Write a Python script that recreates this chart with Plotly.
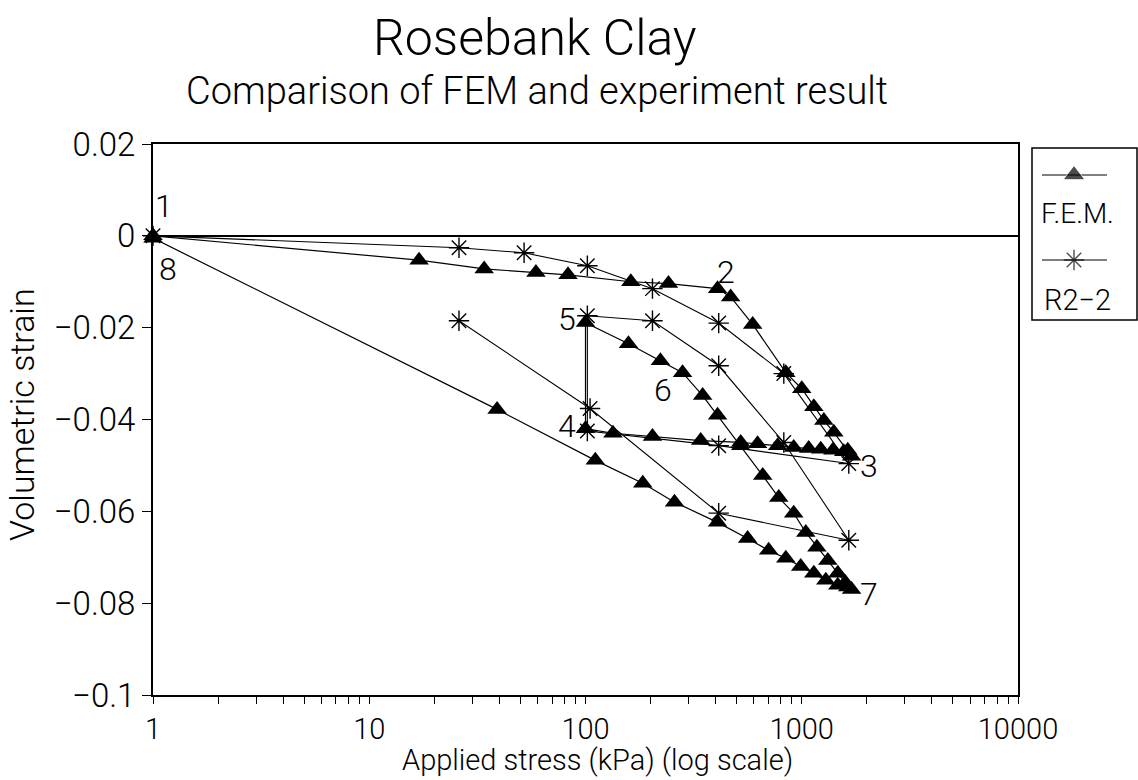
import math
import plotly.graph_objects as go

# ---- F.E.M. prediction: load 1->3, unload 3->4, swell 4->5, reload 5->7, unload 7->8
fem_stress = [1, 17, 34, 59, 83, 162, 242, 408, 469, 593, 844, 1000, 1137, 1265, 1407, 1632, 1700,
              1564, 1393, 1224, 1077, 918, 774, 625, 522, 341, 204, 134, 100,
              100,
              158, 222, 281, 348, 408, 522, 660, 783, 918, 1044, 1175, 1320, 1468, 1590, 1700,
              1633, 1468, 1292, 1137, 989, 844, 703, 562, 408, 258, 184, 111, 39, 1]
fem_strain = [0, -0.0053, -0.0072, -0.0080, -0.0085, -0.0100, -0.0104, -0.0115, -0.0133, -0.0193,
              -0.0298, -0.0333, -0.0372, -0.0402, -0.0428, -0.0467, -0.0480,
              -0.0470, -0.0467, -0.0465, -0.0463, -0.0461, -0.0457, -0.0453, -0.0450, -0.0446,
              -0.0437, -0.0430, -0.0420,
              -0.0189,
              -0.0235, -0.0272, -0.0298, -0.0348, -0.0391, -0.0457, -0.0522, -0.0570, -0.0604,
              -0.0646, -0.0678, -0.0707, -0.0735, -0.0755, -0.0770,
              -0.0765, -0.0761, -0.0750, -0.0735, -0.0720, -0.0702, -0.0685, -0.0659, -0.0624,
              -0.0580, -0.0539, -0.0489, -0.0378, -0.0005]

# ---- R2-2 oedometer test
r22_stress = [1, 26, 52, 102, 204, 413, 826, 1650, 413, 102, 102, 204, 413, 826, 1650, 413, 105, 26]
r22_strain = [0, -0.0026, -0.0037, -0.0065, -0.0115, -0.0190, -0.0300, -0.0496, -0.0457, -0.0425,
              -0.0174, -0.0185, -0.0283, -0.0450, -0.0663, -0.0604, -0.0376, -0.0185]

# stage labels: (text, stress, strain, xshift, yshift)
stage_labels = [("1", 1, 0.0, 11, 30), ("2", 408, -0.0115, 8, 17), ("3", 1700, -0.048, 17, -10),
                ("4", 100, -0.042, -19, 3), ("5", 100, -0.0189, -19, 4), ("6", 281, -0.0298, -20, -17),
                ("7", 1700, -0.077, 17, -5), ("8", 1, 0.0, 15, -33)]

y_ticks = [0.02, 0, -0.02, -0.04, -0.06, -0.08, -0.1]
y_tick_text = ["0.02", "0", "\u22120.02", "\u22120.04", "\u22120.06", "\u22120.08", "\u22120.1"]
x_ticks = [1, 10, 100, 1000, 10000]
x_tick_text = ["1", "10", "100", "1000", "10000"]
x_minor = [m * 10 ** d for d in range(4) for m in range(2, 10)]

FONT = "Roboto"
INK = "black"


def txt_font(size):
    return dict(family=FONT, size=size, color=INK, weight=300)


fig = go.Figure()

fig.add_trace(go.Scatter(
    x=fem_stress, y=fem_strain, mode="lines+markers", name="F.E.M.",
    line=dict(color=INK, width=1.2),
    marker=dict(symbol="triangle-up", size=17, color=INK),
    cliponaxis=False, showlegend=False))

fig.add_trace(go.Scatter(
    x=r22_stress, y=r22_strain, mode="lines+markers", name="R2\u22122",
    line=dict(color=INK, width=1.1),
    marker=dict(symbol="asterisk-open", size=17, color=INK, line=dict(color=INK, width=1.4)),
    cliponaxis=False, showlegend=False))

# key box drawn on its own small axes to the right of the plot
key_line_x = [0.095, 0.40, 0.714]
fig.add_trace(go.Scatter(
    x=key_line_x, y=[0.843] * 3, mode="lines+markers", xaxis="x2", yaxis="y2",
    line=dict(color=INK, width=1.2),
    marker=dict(symbol="triangle-up", size=[0, 19, 0], color=INK),
    cliponaxis=False, showlegend=False, hoverinfo="skip"))
fig.add_trace(go.Scatter(
    x=key_line_x, y=[0.349] * 3, mode="lines+markers", xaxis="x2", yaxis="y2",
    line=dict(color=INK, width=1.1),
    marker=dict(symbol="asterisk-open", size=[0, 17, 0], color=INK, line=dict(color=INK, width=1.4)),
    cliponaxis=False, showlegend=False, hoverinfo="skip"))

annotations = []
for txt, sx, sy, dx, dy in stage_labels:
    annotations.append(dict(text=txt, x=math.log10(sx), y=sy, xref="x", yref="y",
                            xanchor="center", yanchor="middle",
                            showarrow=False, xshift=dx, yshift=dy, font=txt_font(32)))

annotations += [
    dict(text="Rosebank Clay", x=(535 - 153) / 985, y=(695 - 38) / 551, xref="paper", yref="paper",
         xanchor="center", yanchor="middle", showarrow=False, font=txt_font(50)),
    dict(text="Comparison of FEM and experiment result", x=(537 - 153) / 985, y=(695 - 91) / 551,
         xref="paper", yref="paper", xanchor="center", yanchor="middle", showarrow=False,
         font=txt_font(38)),
    dict(text="Applied stress (kPa) (log scale)", x=(597 - 153) / 985, y=(695 - 760) / 551,
         xref="paper", yref="paper", xanchor="center", yanchor="middle", showarrow=False,
         font=txt_font(29)),
    dict(text="Volumetric strain", x=(22 - 153) / 985, y=(695 - 415) / 551, xref="paper",
         yref="paper", xanchor="center", yanchor="middle", showarrow=False, textangle=-90,
         font=txt_font(34)),
    dict(text="F.E.M.", x=0.43, y=0.622, xref="x2", yref="y2", xanchor="center", yanchor="middle",
         showarrow=False, font=txt_font(28)),
    dict(text="R2\u22122", x=0.43, y=0.116, xref="x2", yref="y2", xanchor="center",
         yanchor="middle", showarrow=False, font=txt_font(29)),
]

fig.update_layout(
    width=1138, height=780,
    margin=dict(l=153, r=0, t=144, b=85, autoexpand=False),
    paper_bgcolor="white", plot_bgcolor="white",
    font=txt_font(28),
    showlegend=False,
    annotations=annotations,
    shapes=[dict(type="rect", xref="x2 domain", yref="y2 domain", x0=0, x1=1, y0=0, y1=1,
                 line=dict(color=INK, width=1.5))],
    xaxis=dict(type="log", range=[0, 4], domain=[0, 865 / 985],
               tickvals=x_ticks, ticktext=x_tick_text, ticks="outside", ticklen=7,
               tickwidth=1.3, tickcolor=INK,
               minor=dict(tickvals=x_minor, ticks="outside", ticklen=7, tickwidth=1.2, tickcolor=INK),
               showline=True, linecolor=INK, linewidth=2, mirror=True, showgrid=False,
               tickfont=txt_font(29), zeroline=False, automargin=False),
    yaxis=dict(range=[-0.1, 0.02], tickvals=y_ticks, ticktext=y_tick_text, ticks="outside",
               ticklen=9, tickwidth=1.3, tickcolor=INK,
               showline=True, linecolor=INK, linewidth=2, mirror=True, showgrid=False,
               zeroline=True, zerolinecolor=INK, zerolinewidth=1.6,
               tickfont=txt_font(33), automargin=False),
    xaxis2=dict(domain=[(1032 - 153) / 985, (1137 - 153) / 985], range=[0, 1], anchor="y2",
                visible=False, fixedrange=True),
    yaxis2=dict(domain=[(695 - 320) / 551, (695 - 148) / 551], range=[0, 1], anchor="x2",
                visible=False, fixedrange=True),
)

fig.write_html("out.html")
